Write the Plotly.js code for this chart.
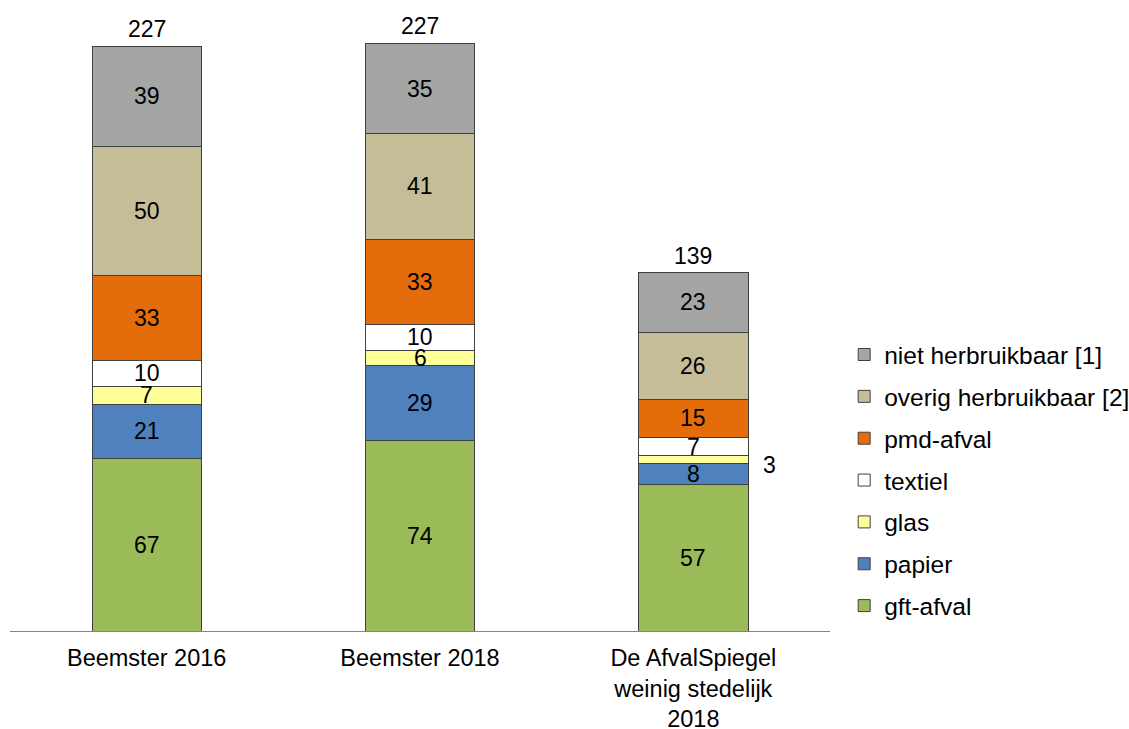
<!DOCTYPE html>
<html>
<head>
<meta charset="utf-8">
<script src="https://cdn.plot.ly/plotly-3.0.1.min.js"></script>
<style>html,body{margin:0;padding:0;background:#fff;}#chart{width:1129px;height:729px;}</style>
</head>
<body>
<div id="chart"></div>
<script>
const categories = ["Beemster 2016", "Beemster 2018", "De AfvalSpiegel<br>weinig stedelijk<br>2018"];
const seriesNames = ["gft-afval", "papier", "glas", "textiel", "pmd-afval", "overig herbruikbaar [2]", "niet herbruikbaar [1]"];
const gft = [67, 74, 57];
const papier = [21, 29, 8];
const glas = [7, 6, 3];
const textiel = [10, 10, 7];
const pmd = [33, 33, 15];
const overig = [50, 41, 26];
const niet = [39, 35, 23];
const totals = [227, 227, 139];
const colors = ["#9bbb59", "#4f81bd", "#ffff99", "#ffffff", "#e46c0a", "#c4bd97", "#a5a5a5"];

const seriesValues = [gft, papier, glas, textiel, pmd, overig, niet];
const FONT = "Liberation Sans, Arial, sans-serif";

const traces = seriesValues.map((vals, i) => ({
  type: "bar",
  name: seriesNames[i],
  x: categories,
  y: vals,
  legendgroup: "g" + i,
  legendrank: seriesValues.length - i,
  marker: {color: colors[i], line: {color: "#404040", width: 1}},
  hoverinfo: "skip"
}));

const annotations = [];
const cum = [0, 0, 0];
seriesValues.forEach((vals, i) => {
  vals.forEach((v, j) => {
    const mid = cum[j] + v / 2;
    const outside = v < 5;
    annotations.push({
      x: categories[j], y: mid, xref: "x", yref: "y",
      text: String(v), showarrow: false,
      xshift: outside ? 76 : 0, yshift: outside ? -5 : 0,
      font: {family: FONT, size: 23, color: "#000"}
    });
    cum[j] += v;
  });
});
categories.forEach((c, j) => {
  annotations.push({
    x: c, y: cum[j], xref: "x", yref: "y", yanchor: "bottom",
    text: String(totals[j]), showarrow: false, yshift: 2,
    font: {family: FONT, size: 23, color: "#000"}
  });
});

const layout = {
  width: 1129, height: 729,
  margin: {l: 10, r: 299, t: 20, b: 98, autoexpand: false},
  barmode: "stack",
  bargap: 0.6,
  paper_bgcolor: "#fff", plot_bgcolor: "#fff",
  font: {family: FONT, size: 24, color: "#000"},
  showlegend: true,
  legend: {
    x: 1.0173, xanchor: "left", y: 0.247, yanchor: "middle",
    traceorder: "grouped", tracegroupgap: 7,
    font: {family: FONT, size: 24.5, color: "#000"},
    bgcolor: "rgba(0,0,0,0)"
  },
  xaxis: {
    showline: true, linecolor: "#868686", linewidth: 1,
    ticks: "", showgrid: false, zeroline: false,
    ticklabelstandoff: 6,
    tickfont: {family: FONT, size: 23.5, color: "#000"}
  },
  yaxis: {
    range: [0, 237.1], visible: false, showgrid: false, zeroline: false
  },
  annotations: annotations
};

Plotly.newPlot("chart", traces, layout, {displayModeBar: false, staticPlot: true});
</script>
</body>
</html>
